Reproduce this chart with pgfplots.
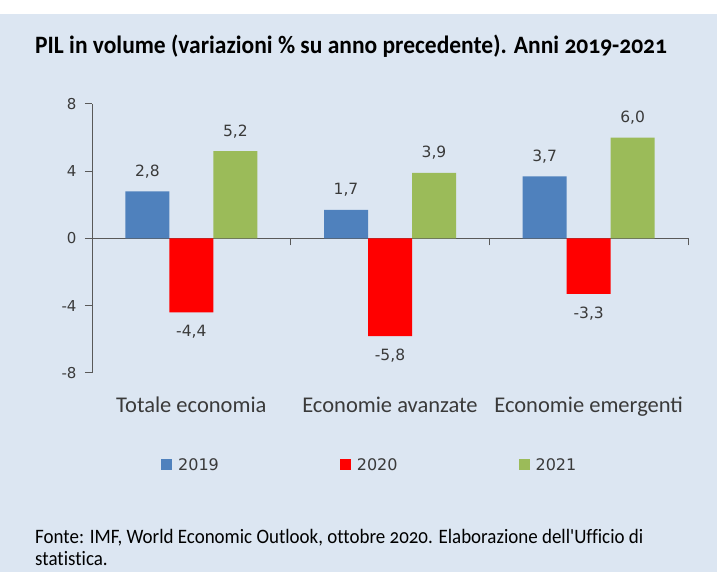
\documentclass[border=0pt]{standalone}
\usepackage{fontspec}
\setmainfont{DejaVu Sans}
\newfontfamily\catfont{Carlito}
\newfontfamily\titlefont{Carlito}[Numbers=OldStyle, FakeStretch=0.94, Ligatures=NoCommon]
\newfontfamily\footfont{Carlito}[Numbers=OldStyle, FakeStretch=0.925, Ligatures=NoCommon]
\usepackage{pgfplots}
\pgfplotsset{compat=1.18}
\definecolor{bg}{HTML}{DCE6F2}
\definecolor{c19}{HTML}{4F81BD}
\definecolor{c20}{HTML}{FF0000}
\definecolor{c21}{HTML}{9BBB59}
\definecolor{axc}{HTML}{595959}
\definecolor{txt}{HTML}{3A3A3A}
\begin{document}
\begin{tikzpicture}[x=1pt,y=1pt]
\fill[white] (0,0) rectangle (717,572);
\fill[bg] (0,0) rectangle (717,558);
\node[anchor=base west, inner sep=0pt, font=\titlefont\bfseries\fontsize{25}{28}\selectfont] at (35,518) {PIL in volume (variazioni \% su anno precedente). Anni 2019-2021};
\node[anchor=base west, inner sep=0pt, font=\footfont\fontsize{20.5}{24}\selectfont] at (35,28) {Fonte: IMF, World Economic Outlook, ottobre 2020. Elaborazione dell'Ufficio di};
\node[anchor=base west, inner sep=0pt, font=\footfont\fontsize{20.5}{24}\selectfont] at (35,6) {statistica.};
\begin{axis}[
  at={(92pt,199pt)}, anchor=south west, scale only axis,
  width=596pt, height=269pt,
  xmin=-0.5, xmax=2.5, ymin=-8, ymax=8,
  axis y line=left, axis x line=middle,
  x axis line style={-, draw=axc, line width=1pt},
  y axis line style={-, draw=axc, line width=1pt},
  hide obscured x ticks=false, hide obscured y ticks=false,
  tick align=outside, major tick length=7pt,
  tick style={draw=axc, line width=1pt},
  ytick={-8,-4,0,4,8},
  yticklabel style={font=\fontsize{15}{17}\selectfont, text=txt, xshift=-5pt},
  /pgf/number format/assume math mode=true,
  xtick={-0.5,0.5,1.5,2.5}, xticklabels={},
  extra x ticks={0,1,2},
  extra x tick labels={Totale economia, Economie avanzate, Economie emergenti},
  extra x tick style={major tick length=0pt, tick label style={font=\catfont\fontsize{22.5}{26}\selectfont, text=txt, yshift=-155pt}},
  ybar=0pt, bar width=44pt,
  nodes near coords,
  nodes near coords style={font=\fontsize{15.5}{17}\selectfont, text=txt, inner ysep=13pt,
    /pgf/number format/.cd, fixed, fixed zerofill, precision=1, use comma, assume math mode=true},
  legend columns=3,
  legend style={at={(0.466,-0.342)}, anchor=center, draw=none, fill=none,
    font=\fontsize{16}{18}\selectfont, text=txt,
    /tikz/every odd column/.append style={column sep=4pt},
    /tikz/every even column/.append style={column sep=119pt}},
  legend image code/.code={\fill[#1] (0pt,-5.5pt) rectangle (11pt,5.5pt);},
]
\addplot[fill=c19, draw=none] coordinates {(0,2.8) (1,1.7) (2,3.7)};
\addplot[fill=c20, draw=none] coordinates {(0,-4.4) (1,-5.8) (2,-3.3)};
\addplot[fill=c21, draw=none] coordinates {(0,5.2) (1,3.9) (2,6.0)};
\legend{2019,2020,2021}
\end{axis}
\end{tikzpicture}
\end{document}
